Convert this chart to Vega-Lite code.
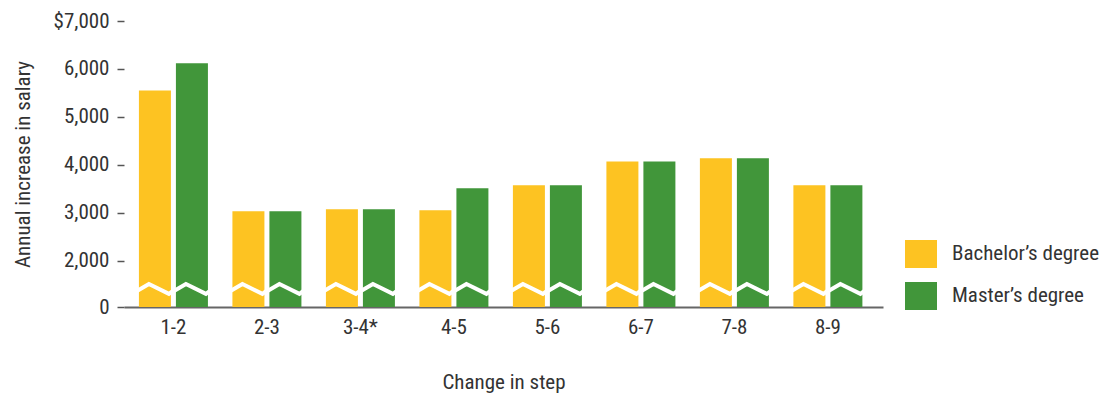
{
  "$schema": "https://vega.github.io/schema/vega-lite/v6.json",
  "width": 759,
  "height": 286,
  "autosize": {"type": "none"},
  "padding": {"left": 124, "top": 21, "right": 221, "bottom": 95},
  "background": "white",
  "config": {
    "view": {"stroke": null},
    "font": "Liberation Sans Narrow, Roboto Condensed, DejaVu Sans Condensed, sans-serif",
    "axis": {"grid": false, "labelColor": "#333333", "titleColor": "#333333", "titleFontWeight": "normal", "labelFontSize": 21, "titleFontSize": 21},
    "legend": {"labelColor": "#333333", "labelFontSize": 21}
  },
  "data": {
    "values": [
      {"step": "1-2", "degree": "Bachelor’s degree", "value": 5550},
      {"step": "1-2", "degree": "Master’s degree", "value": 6120},
      {"step": "2-3", "degree": "Bachelor’s degree", "value": 3030},
      {"step": "2-3", "degree": "Master’s degree", "value": 3030},
      {"step": "3-4*", "degree": "Bachelor’s degree", "value": 3070},
      {"step": "3-4*", "degree": "Master’s degree", "value": 3070},
      {"step": "4-5", "degree": "Bachelor’s degree", "value": 3050},
      {"step": "4-5", "degree": "Master’s degree", "value": 3510},
      {"step": "5-6", "degree": "Bachelor’s degree", "value": 3570},
      {"step": "5-6", "degree": "Master’s degree", "value": 3570},
      {"step": "6-7", "degree": "Bachelor’s degree", "value": 4070},
      {"step": "6-7", "degree": "Master’s degree", "value": 4070},
      {"step": "7-8", "degree": "Bachelor’s degree", "value": 4135},
      {"step": "7-8", "degree": "Master’s degree", "value": 4135},
      {"step": "8-9", "degree": "Bachelor’s degree", "value": 3570},
      {"step": "8-9", "degree": "Master’s degree", "value": 3570}
    ]
  },
  "encoding": {
    "x": {
      "field": "step",
      "type": "nominal",
      "sort": null,
      "scale": {"paddingInner": 0.262, "paddingOuter": 0.19, "align": 0.42},
      "axis": {
        "title": "Change in step",
        "labelAngle": 0,
        "ticks": false,
        "labelPadding": 9,
        "domainColor": "#666666",
        "domainWidth": 2,
        "titlePadding": 34
      }
    },
    "xOffset": {
      "field": "degree",
      "type": "nominal",
      "scale": {"paddingInner": 0.135, "paddingOuter": 0}
    }
  },
  "layer": [
    {
      "mark": {"type": "bar"},
      "encoding": {
        "y": {
          "field": "value",
          "type": "quantitative",
          "scale": {"domain": [0, 2000, 7000], "range": [286, 239.6, 0], "zero": false, "nice": false},
          "axis": {
            "title": "Annual increase in salary",
            "values": [0, 2000, 3000, 4000, 5000, 6000, 7000],
            "labelExpr": "datum.value == 7000 ? '$7,000' : format(datum.value, ',')",
            "domain": false,
            "tickSize": 7,
            "tickColor": "#555555",
            "tickWidth": 1.5,
            "labelPadding": 8,
            "titlePadding": 20
          }
        },
        "color": {
          "field": "degree",
          "type": "nominal",
          "scale": {"domain": ["Bachelor’s degree", "Master’s degree"], "range": ["#FDC322", "#41963A"]},
          "legend": {
            "title": null,
            "orient": "none",
            "legendX": 781,
            "legendY": 217,
            "padding": 0,
            "symbolType": "M-1,-0.875H1V0.875H-1Z",
            "symbolSize": 1024,
            "symbolStrokeWidth": 0,
            "rowPadding": 12,
            "labelOffset": 15
          }
        }
      }
    },
    {
      "mark": {
        "type": "point",
        "shape": "M-1.15,0.12L-0.375,-0.34L0.875,0.28L1.15,0.08",
        "filled": false,
        "stroke": "white",
        "strokeWidth": 4,
        "size": 1024,
        "opacity": 1
      },
      "encoding": {
        "y": {
          "datum": 760,
          "type": "quantitative",
          "axis": {
            "title": "Annual increase in salary",
            "values": [0, 2000, 3000, 4000, 5000, 6000, 7000],
            "labelExpr": "datum.value == 7000 ? '$7,000' : format(datum.value, ',')",
            "domain": false,
            "tickSize": 7,
            "tickColor": "#555555",
            "tickWidth": 1.5,
            "labelPadding": 8,
            "titlePadding": 20
          }
        }
      }
    }
  ]
}
